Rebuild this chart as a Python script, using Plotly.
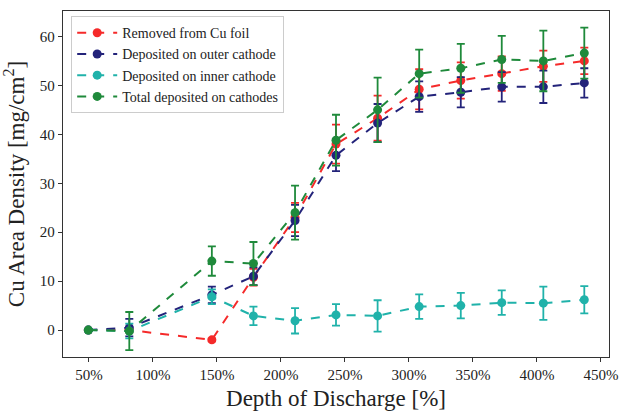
import plotly.graph_objects as go

dod = [49.5, 81.5, 146, 178.5, 211, 243, 275.5, 308, 340.5, 372.5, 405, 437]

removed = [0, 0, -2.0, 10.8, 23.0, 38.0, 43.3, 49.2, 51.0, 52.4, 53.9, 55.0]
removed_err = [0.2, 0.5, 0.3, 1.7, 3.0, 4.0, 4.6, 4.1, 3.7, 3.5, 3.2, 2.7]

outer = [0, 0.5, 7.2, 11.0, 22.4, 35.7, 42.3, 47.7, 48.6, 49.7, 49.7, 50.5]
outer_err = [0.2, 1.8, 1.7, 1.8, 3.2, 3.2, 3.9, 3.1, 3.1, 3.0, 3.3, 3.0]

inner = [0, -0.2, 6.8, 2.9, 1.9, 3.1, 2.9, 4.8, 5.0, 5.6, 5.5, 6.2]
inner_err = [0.2, 1.5, 1.5, 1.9, 2.6, 2.2, 3.2, 2.5, 2.6, 2.5, 3.4, 2.8]

total = [0, -0.2, 14.1, 13.6, 24.0, 38.8, 45.0, 52.4, 53.5, 55.3, 55.0, 56.6]
total_err = [0.2, 3.9, 3.0, 4.4, 5.5, 5.2, 6.6, 4.9, 5.0, 4.8, 6.2, 5.2]

x_ticks = [50, 100, 150, 200, 250, 300, 350, 400, 450]
y_ticks = [0, 10, 20, 30, 40, 50, 60]

series = [
    ("Removed from Cu foil", removed, removed_err, "#f52a2a"),
    ("Deposited on outer cathode", outer, outer_err, "#23237a"),
    ("Deposited on inner cathode", inner, inner_err, "#20b2aa"),
    ("Total deposited on cathodes", total, total_err, "#1f8a3b"),
]

fig = go.Figure()
for name, vals, errs, col in series:
    fig.add_trace(go.Scatter(
        x=dod, y=vals, name=name, mode="lines+markers",
        line=dict(color=col, width=2, dash="dash"),
        marker=dict(color=col, size=9, symbol="circle"),
        error_y=dict(type="data", array=errs, visible=True,
                     color=col, thickness=1.8, width=4),
    ))

serif = "Liberation Serif, Times New Roman, serif"
fig.update_layout(
    width=620, height=411,
    margin=dict(l=63, r=11, t=11, b=54),
    paper_bgcolor="white", plot_bgcolor="white",
    font=dict(family=serif, color="#222222", size=15),
    showlegend=True,
    legend=dict(x=0.015, y=0.985, xanchor="left", yanchor="top",
                bgcolor="rgba(255,255,255,0.9)", bordercolor="#cccccc",
                borderwidth=1, font=dict(family=serif, size=14, color="#222222"),
                tracegroupgap=0, itemwidth=40),
    xaxis=dict(
        range=[29.7, 456.3], tickvals=x_ticks,
        ticktext=[f"{v}%" for v in x_ticks],
        showgrid=False, zeroline=False, automargin=False,
        showline=True, linecolor="#333333", linewidth=1.3, mirror=True,
        ticks="outside", ticklen=4, tickcolor="#333333",
        tickfont=dict(size=15, family=serif),
        title=dict(text="Depth of Discharge [%]", font=dict(size=23, family=serif)),
    ),
    yaxis=dict(
        range=[-5.5, 65.2], tickvals=y_ticks,
        showgrid=False, zeroline=False, automargin=False,
        showline=True, linecolor="#333333", linewidth=1.3, mirror=True,
        ticks="outside", ticklen=4, tickcolor="#333333",
        tickfont=dict(size=15, family=serif),
        title=dict(text="Cu Area Density [mg/cm<sup>2</sup>]", font=dict(size=23, family=serif)),
    ),
)

fig.write_html("out.html")
